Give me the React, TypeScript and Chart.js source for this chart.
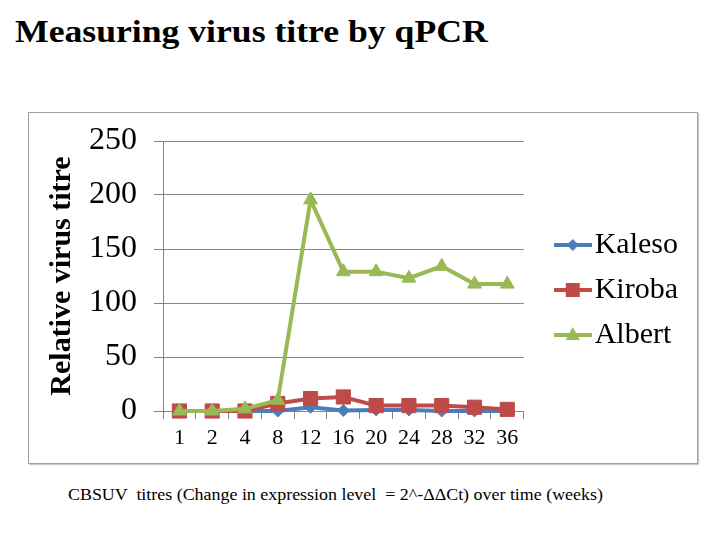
import React, { useEffect, useRef } from "react";
import { Chart, registerables } from "chart.js";

Chart.register(...registerables);

const weeks = ["1", "2", "4", "8", "12", "16", "20", "24", "28", "32", "36"];
const kaleso = [0, 0, 0, 0, 3.5, 0.5, 1, 1, 0, 0, 0];
const kiroba = [0, 0, 0, 7, 11.5, 13, 5, 5, 5, 3.5, 1.5];
const albert = [0, 0, 2, 10, 195.5, 129, 129, 123, 134, 117.5, 117.5];
const yTicks = [0, 50, 100, 150, 200, 250];
const seriesNames = ["Kaleso", "Kiroba", "Albert"];
const seriesColors = ["#4A7EBB", "#BE4B48", "#98B954"];
const seriesMarkers = ["rectRot", "rect", "triangle"];
const seriesRadius = [6, 10, 8];

const titleText = "Measuring virus titre by qPCR";
const yTitleText = "Relative virus titre";
const captionText = "CBSUV  titres (Change in expression level  = 2^-\u0394\u0394Ct) over time (weeks)";

const SERIF = "'Liberation Serif', 'Times New Roman', serif";

function makeLegendIcon(color: string, marker: string): HTMLCanvasElement {
  const c = document.createElement("canvas");
  c.width = 38;
  c.height = 20;
  const ctx = c.getContext("2d")!;
  ctx.strokeStyle = color;
  ctx.lineWidth = 4;
  ctx.beginPath();
  ctx.moveTo(0, 10);
  ctx.lineTo(38, 10);
  ctx.stroke();
  ctx.fillStyle = color;
  ctx.beginPath();
  const cx = 19, cy = 10;
  if (marker === "rectRot") {
    ctx.moveTo(cx, cy - 6);
    ctx.lineTo(cx + 6, cy);
    ctx.lineTo(cx, cy + 6);
    ctx.lineTo(cx - 6, cy);
  } else if (marker === "rect") {
    ctx.rect(cx - 7, cy - 7, 14, 14);
  } else {
    ctx.moveTo(cx, cy - 8);
    ctx.lineTo(cx + 7, cy + 5);
    ctx.lineTo(cx - 7, cy + 5);
  }
  ctx.closePath();
  ctx.fill();
  return c;
}

export default function App() {
  const canvasRef = useRef<HTMLCanvasElement | null>(null);

  useEffect(() => {
    if (!canvasRef.current) return;
    const seriesData = [kaleso, kiroba, albert];
    const icons = seriesNames.map((_, i) => makeLegendIcon(seriesColors[i], seriesMarkers[i]));
    const chart = new Chart(canvasRef.current, {
      type: "line",
      data: {
        labels: weeks,
        datasets: seriesNames.map((name, i) => ({
          label: name,
          data: seriesData[i],
          borderColor: seriesColors[i],
          backgroundColor: seriesColors[i],
          pointBackgroundColor: seriesColors[i],
          pointBorderColor: seriesColors[i],
          pointBorderWidth: 1,
          pointStyle: seriesMarkers[i] as any,
          pointRadius: seriesRadius[i],
          borderWidth: 4,
          tension: 0,
          fill: false,
          clip: false as any,
          order: 3 - i,
        })),
      },
      options: {
        animation: false,
        responsive: false,
        maintainAspectRatio: false,
        events: [],
        layout: { padding: { top: 28, right: 9, bottom: 8, left: 0 } },
        plugins: {
          tooltip: { enabled: false },
          title: { display: false },
          legend: {
            display: true,
            position: "right",
            align: "center",
            fullSize: false,
            maxWidth: 160,
            title: { display: true, text: " ", padding: 9, font: { size: 10, lineHeight: 1 } },
            labels: {
              usePointStyle: true,
              pointStyleWidth: 14,
              padding: 15,
              color: "#000",
              font: { family: SERIF, size: 30 },
              sort: (a: any, b: any) => a.datasetIndex - b.datasetIndex,
              generateLabels: (ch: any) => {
                const items = Chart.defaults.plugins.legend.labels.generateLabels(ch);
                items.forEach((it: any) => {
                  it.pointStyle = icons[it.datasetIndex];
                });
                return items;
              },
            },
          },
        },
        scales: {
          x: {
            type: "category",
            offset: true,
            grid: {
              display: true,
              drawOnChartArea: false,
              drawTicks: true,
              tickLength: 8,
              offset: true,
              color: "#868686",
            },
            border: { display: true, color: "#868686", width: 1 },
            ticks: { color: "#000", font: { family: SERIF, size: 22 }, padding: 6, maxRotation: 0, autoSkip: false },
            afterFit: (s: any) => {
              s.height = 44;
            },
          },
          y: {
            type: "linear",
            min: 0,
            max: 250,
            afterBuildTicks: (s: any) => {
              s.ticks = yTicks.map((v) => ({ value: v }));
            },
            grid: { color: "#868686", lineWidth: 1, drawTicks: true, tickLength: 9 },
            border: { display: true, color: "#868686", width: 1 },
            ticks: { color: "#000", font: { family: SERIF, size: 32 }, padding: 17 },
            title: {
              display: true,
              text: yTitleText,
              color: "#000",
              font: { family: SERIF, size: 30, weight: "bold" },
              padding: { top: 15, bottom: 0 },
            },
            afterFit: (s: any) => {
              s.width = 134;
              s.paddingTop = 20;
              s.paddingBottom = 20;
            },
          },
          yRight: {
            type: "linear",
            position: "right",
            display: true,
            grid: { display: false, drawTicks: false },
            border: { display: false },
            ticks: { display: false },
            afterFit: (s: any) => {
              s.width = 27;
            },
          },
        },
      } as any,
    });
    return () => chart.destroy();
  }, []);

  return (
    <div style={{ position: "absolute", left: 0, top: 0, width: 720, height: 540, background: "#fff", overflow: "hidden" }}>
      <div
        style={{
          position: "absolute",
          left: 15,
          top: 16,
          fontFamily: SERIF,
          fontWeight: "bold",
          fontSize: 31,
          lineHeight: "31px",
          whiteSpace: "nowrap",
          color: "#000",
          transform: "scaleX(1.15)",
          transformOrigin: "left top",
        }}
      >
        {titleText}
      </div>
      <div
        style={{
          position: "absolute",
          left: 28,
          top: 112,
          width: 670,
          height: 352,
          boxSizing: "border-box",
          border: "1px solid #A0A0A0",
          boxShadow: "1px 1px 1px #c8c8c8",
          background: "#fff",
        }}
      >
        <canvas ref={canvasRef} width={668} height={350} style={{ display: "block", width: 668, height: 350 }} />
      </div>
      <div
        style={{
          position: "absolute",
          left: 68,
          top: 487,
          fontFamily: SERIF,
          fontSize: 16,
          lineHeight: "16px",
          whiteSpace: "pre",
          color: "#000",
          transform: "scaleX(1.12)",
          transformOrigin: "left top",
        }}
      >
        {captionText}
      </div>
    </div>
  );
}
